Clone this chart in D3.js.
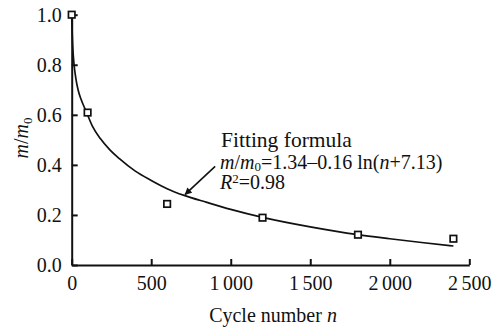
<!DOCTYPE html>
<html lang="en">
<head>
    <title>Mass ratio vs cycle number</title>
    <script src="https://d3js.org/d3.v7.min.js"></script>
    <style>
        body { margin: 0; background: white; }
        svg text { font-family: "Liberation Serif", "Times New Roman", Times, serif; fill: #111; }
        .axis path, .axis line { stroke: #111; stroke-width: 2; }
        .axis text { font-size: 20px; word-spacing: -1.5px; }
    </style>
</head>
<body>
    <svg id="chart"></svg>

    <script>
        var width = 500;
        var height = 332;
        var margins = { left: 71.7, right: 30.7, top: 14.7, bottom: 67 };
        var serif = "'Liberation Serif', 'Times New Roman', Times, serif";

        // measured points
        var cycles = [0, 100, 600, 1200, 1800, 2400];
        var massRatio = [1.0, 0.609, 0.244, 0.189, 0.121, 0.105];

        // fitted curve
        var fitCycles = [0, 2, 6, 15, 25, 40, 60, 90, 130, 180, 240, 300, 400, 500, 600, 707, 850, 1000, 1200, 1500, 1800, 2000, 2200, 2400];
        var fitRatio = [1.0, 0.95, 0.88, 0.80, 0.75, 0.70, 0.66, 0.615, 0.555, 0.505, 0.46, 0.425, 0.375, 0.338, 0.305, 0.278, 0.25, 0.222, 0.19, 0.152, 0.121, 0.105, 0.09, 0.076];

        var xTicks = [0, 500, 1000, 1500, 2000, 2500];
        var xTickLabels = ["0", "500", "1 000", "1 500", "2 000", "2 500"];
        var yTicks = [0, 0.2, 0.4, 0.6, 0.8, 1.0];

        var innerW = width - margins.left - margins.right;
        var innerH = height - margins.top - margins.bottom;

        var svg = d3.select("#chart")
            .attr("width", width)
            .attr("height", height)
            .attr("font-family", serif);

        var g = svg.append("g")
            .attr("transform", "translate(" + margins.left + "," + margins.top + ")");

        var xscale = d3.scaleLinear().domain([0, 2500]).range([0, innerW]);
        var yscale = d3.scaleLinear().domain([0, 1]).range([innerH, 0]);

        var xaxis = d3.axisBottom(xscale)
            .tickValues(xTicks)
            .tickSizeInner(-6)
            .tickSizeOuter(0)
            .tickPadding(11)
            .tickFormat(function (d, i) { return xTickLabels[i]; });
        var yaxis = d3.axisLeft(yscale)
            .tickValues(yTicks)
            .tickSizeInner(-6)
            .tickSizeOuter(0)
            .tickPadding(10)
            .tickFormat(d3.format(".1f"));

        g.append("g")
            .attr("class", "axis")
            .attr("transform", "translate(0," + innerH + ")")
            .call(xaxis)
            .attr("font-family", serif);
        g.append("g")
            .attr("class", "axis")
            .call(yaxis)
            .attr("font-family", serif);

        // fitted curve
        var fit = fitCycles.map(function (c, i) { return [c, fitRatio[i]]; });
        var line = d3.line()
            .x(function (d) { return xscale(d[0]); })
            .y(function (d) { return yscale(d[1]); })
            .curve(d3.curveMonotoneX);
        g.append("path")
            .datum(fit)
            .attr("d", line)
            .attr("fill", "none")
            .attr("stroke", "#111")
            .attr("stroke-width", 1.7);

        // measured markers
        var pts = cycles.map(function (c, i) { return { x: c, y: massRatio[i] }; });
        var s = 6.5;
        g.selectAll("rect.pt")
            .data(pts)
            .enter()
            .append("rect")
            .attr("class", "pt")
            .attr("x", function (d) { return xscale(d.x) - s / 2; })
            .attr("y", function (d) { return yscale(d.y) - s / 2; })
            .attr("width", s)
            .attr("height", s)
            .attr("fill", "white")
            .attr("stroke", "#111")
            .attr("stroke-width", 1.7);

        // annotation with arrow
        svg.append("defs").append("marker")
            .attr("id", "arrow")
            .attr("viewBox", "0 0 10 10")
            .attr("refX", 9)
            .attr("refY", 5)
            .attr("markerWidth", 9)
            .attr("markerHeight", 7)
            .attr("orient", "auto")
            .attr("markerUnits", "userSpaceOnUse")
            .append("path")
            .attr("d", "M0,0 L10,5 L0,10 z")
            .attr("fill", "#111");

        var tipN = 707, tipV = 0.278;
        g.append("line")
            .attr("x1", xscale(tipN) + 31)
            .attr("y1", yscale(tipV) - 29)
            .attr("x2", xscale(tipN) + 1)
            .attr("y2", yscale(tipV) - 1)
            .attr("stroke", "#111")
            .attr("stroke-width", 1.6)
            .attr("marker-end", "url(#arrow)");

        var note = svg.append("text")
            .attr("x", 221)
            .attr("y", 146.5)
            .style("font-size", "20px");
        note.append("tspan").style("font-size", "21.5px").text("Fitting formula");
        var l2 = note.append("tspan").attr("x", 220).attr("dy", 22);
        l2.append("tspan").style("font-style", "italic").text("m");
        l2.append("tspan").text("/");
        l2.append("tspan").style("font-style", "italic").text("m");
        l2.append("tspan").attr("dy", 2).style("font-size", "13px").text("0");
        l2.append("tspan").attr("dy", -2).text("=1.34\u20130.16 ln(");
        l2.append("tspan").style("font-style", "italic").text("n");
        l2.append("tspan").text("+7.13)");
        var l3 = note.append("tspan").attr("x", 220).attr("dy", 20);
        l3.append("tspan").style("font-style", "italic").text("R");
        l3.append("tspan").attr("dy", -6).style("font-size", "13px").text("2");
        l3.append("tspan").attr("dy", 6).text("=0.98");

        // axis titles
        var xt = svg.append("text")
            .attr("x", 273)
            .attr("y", 321.5)
            .attr("text-anchor", "middle")
            .style("font-size", "20px");
        xt.append("tspan").text("Cycle number ");
        xt.append("tspan").style("font-style", "italic").text("n");

        var yt = svg.append("text")
            .attr("transform", "translate(28,138) rotate(-90)")
            .attr("text-anchor", "middle")
            .style("font-size", "20px");
        yt.append("tspan").style("font-style", "italic").text("m");
        yt.append("tspan").text("/");
        yt.append("tspan").style("font-style", "italic").text("m");
        yt.append("tspan").attr("dy", 4).style("font-size", "13px").text("0");
    </script>
</body>
</html>
